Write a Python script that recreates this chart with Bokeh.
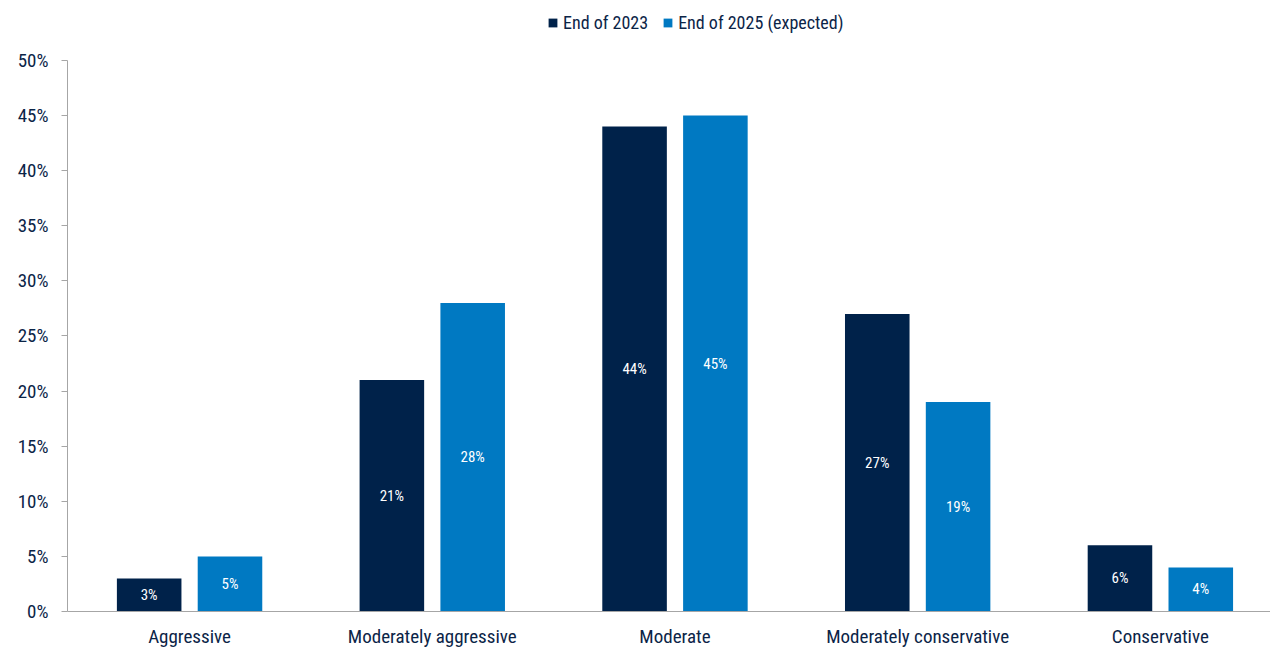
from bokeh.plotting import figure
from bokeh.models import ColumnDataSource, FixedTicker, Legend, LegendItem, Range1d, LabelSet
from bokeh.core.properties import value
from bokeh.embed import file_html
from bokeh.resources import INLINE

categories = ["Aggressive", "Moderately aggressive", "Moderate", "Moderately conservative", "Conservative"]
series_names = ["End of 2023", "End of 2025 (expected)"]
end_2023 = [3, 21, 44, 27, 6]
end_2025 = [5, 28, 45, 19, 4]
y_ticks = [0, 5, 10, 15, 20, 25, 30, 35, 40, 45, 50]

FONT = "Roboto Condensed"
TXT = "#0b2447"
DARK = "#00224a"
BLUE = "#0079c2"

idx = list(range(len(categories)))
off = 0.1665
bw = 0.266
unit = 242.7
x0 = -0.503
px_per_pct = 552 / 50

s1 = ColumnDataSource(dict(x=[i - off for i in idx], top=end_2023, ymid=[v / 2 for v in end_2023],
                           lab=[f"{v}%" for v in end_2023]))
s2 = ColumnDataSource(dict(x=[i + off for i in idx], top=end_2025, ymid=[v / 2 for v in end_2025],
                           lab=[f"{v}%" for v in end_2025]))

p = figure(width=1270, height=650, output_backend="svg", toolbar_location=None,
           x_range=Range1d(x0, x0 + 1203 / unit), y_range=Range1d(0, 612 / px_per_pct),
           min_border_left=67, min_border_right=0, min_border_bottom=38, min_border_top=0)
p.outline_line_color = None
p.grid.grid_line_color = None
p.background_fill_color = "white"
p.border_fill_color = "white"

r1 = p.vbar(x="x", top="top", width=bw, source=s1, fill_color=DARK, line_color=None)
r2 = p.vbar(x="x", top="top", width=bw, source=s2, fill_color=BLUE, line_color=None)

for s in (s1, s2):
    p.add_layout(LabelSet(x="x", y="ymid", text="lab", source=s, text_color="white",
                          text_font=value(FONT), text_font_size="15px", text_align="center",
                          text_baseline="middle"))

p.yaxis.ticker = FixedTicker(ticks=y_ticks)
p.yaxis.bounds = (0, 50)
p.yaxis.major_label_overrides = {t: f"{t}%" for t in y_ticks}
p.yaxis.axis_line_color = "#a6a6a6"
p.yaxis.major_tick_line_color = "#a6a6a6"
p.yaxis.major_tick_out = 6
p.yaxis.major_tick_in = 0
p.yaxis.minor_tick_line_color = None
p.yaxis.major_label_text_font = FONT
p.yaxis.major_label_text_font_size = "19px"
p.yaxis.major_label_text_color = TXT
p.yaxis.major_label_standoff = 13

p.xaxis.ticker = FixedTicker(ticks=idx)
p.xaxis.major_label_overrides = {i: c for i, c in enumerate(categories)}
p.xaxis.axis_line_color = "#a6a6a6"
p.xaxis.major_tick_line_color = None
p.xaxis.major_tick_out = 0
p.xaxis.major_tick_in = 0
p.xaxis.minor_tick_line_color = None
p.xaxis.major_label_text_font = FONT
p.xaxis.major_label_text_font_size = "19px"
p.xaxis.major_label_text_color = TXT
p.xaxis.major_label_standoff = 13

legend = Legend(items=[LegendItem(label=series_names[0], renderers=[r1]),
                       LegendItem(label=series_names[1], renderers=[r2])],
                orientation="horizontal", location=(480, 578),
                label_text_font=FONT, label_text_font_size="18px", label_text_color=TXT,
                glyph_width=11, glyph_height=11, spacing=14, label_standoff=5,
                border_line_color=None, background_fill_alpha=0, padding=0, margin=0)
p.add_layout(legend, "center")

open("out.html", "w").write(file_html(p, INLINE))
